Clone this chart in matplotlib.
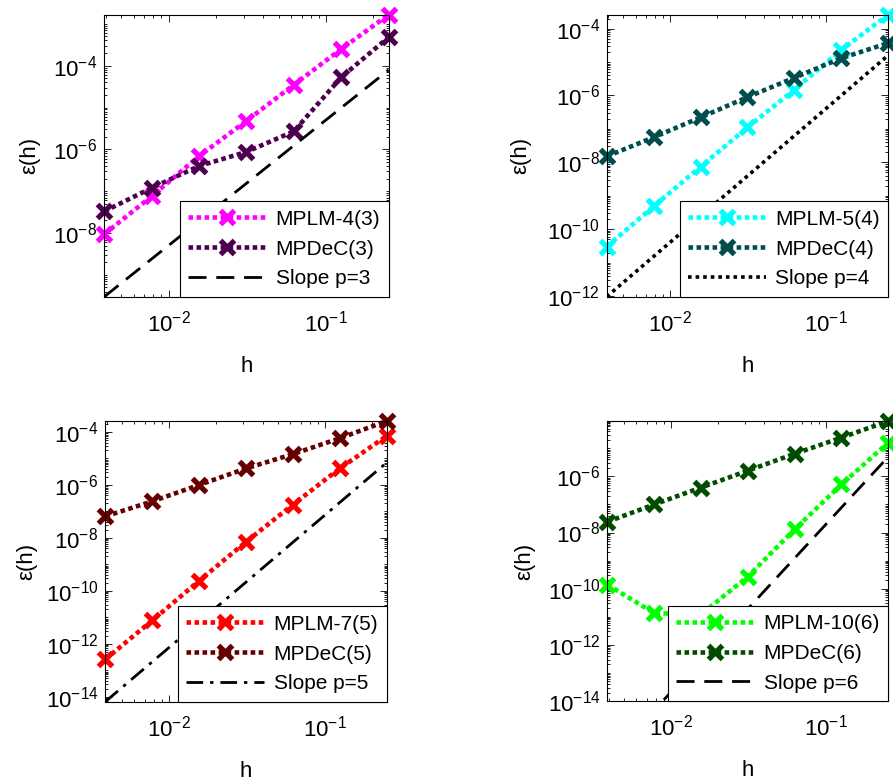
import numpy as np
import matplotlib
matplotlib.use("Agg")
import matplotlib.pyplot as plt
from matplotlib.ticker import FixedLocator, NullFormatter

plt.rcParams['font.family'] = ['Liberation Sans', 'DejaVu Sans']
plt.rcParams['mathtext.fontset'] = 'custom'
plt.rcParams['mathtext.rm'] = 'Liberation Sans'
plt.rcParams['mathtext.it'] = 'Liberation Sans:italic'
plt.rcParams['mathtext.default'] = 'regular'

# step sizes
h = [2**-8, 2**-7, 2**-6, 2**-5, 2**-4, 2**-3, 2**-2]

# order 3
mplm_4_3 = [9.4e-9, 7.6e-8, 6.9e-7, 4.8e-6, 3.5e-5, 2.5e-4, 1.65e-3]
mpdec_3 = [3.3e-8, 1.2e-7, 4.0e-7, 8.7e-7, 2.7e-6, 5.3e-5, 4.8e-4]
# order 4
mplm_5_4 = [3.0e-11, 4.8e-10, 7.4e-9, 1.1e-7, 1.5e-6, 2.3e-5, 2.6e-4]
mpdec_4 = [1.5e-8, 5.6e-8, 2.2e-7, 8.9e-7, 3.4e-6, 1.3e-5, 3.7e-5]
# order 5
mplm_7_5 = [2.6e-13, 7.6e-12, 2.4e-10, 7.1e-9, 1.8e-7, 4.2e-6, 7.1e-5]
mpdec_5 = [6.5e-8, 2.4e-7, 1.0e-6, 4.2e-6, 1.46e-5, 5.8e-5, 2.6e-4]
# order 6
mplm_10_6 = [1.4e-10, 1.35e-11, 1.2e-11, 2.7e-10, 1.3e-8, 5.2e-7, 1.6e-5]
mpdec_6 = [2.4e-8, 1.0e-7, 4.0e-7, 1.6e-6, 6.4e-6, 2.4e-5, 9.4e-5]

# reference slope lines: value at the largest step, and order p
slope_orders = [3, 4, 5, 6]
slope_at_hmax = [7.9e-5, 1.6e-5, 7.0e-6, 5.0e-6]

labels_lm = ['MPLM-4(3)', 'MPLM-5(4)', 'MPLM-7(5)', 'MPLM-10(6)']
labels_dec = ['MPDeC(3)', 'MPDeC(4)', 'MPDeC(5)', 'MPDeC(6)']
slope_labels = ['Slope p=3', 'Slope p=4', 'Slope p=5', 'Slope p=6']

W, H = 893, 784
fig = plt.figure(figsize=(W / 100, H / 100), dpi=100)

# axes boxes in pixels: left, top, right, bottom
boxes = [(104.3, 14.7, 388.7, 296.7),
         (606.7, 14.7, 888.3, 296.7),
         (105.3, 421.0, 386.7, 701.7),
         (607.3, 421.0, 888.3, 701.0)]
# horizontal position of the y-axis label, in axes fraction
ylabel_x = [-0.226, -0.269, -0.243, -0.258]

lm_colors = ['#ff00ff', '#00ffff', '#ff0000', '#00ff00']
dec_colors = [(0.3, 0.0, 0.3), (0.0, 0.3, 0.3), (0.4, 0.0, 0.0), (0.0, 0.3, 0.0)]
slope_styles = [(0, (6.5, 3.5)), (0, (1.0, 1.1)), (0, (6, 2.5, 1.2, 2.5)), (0, (6.5, 3.5))]
slope_widths = [2.0, 2.6, 2.0, 2.0]
ybottom_fixed = [None, None, None, 1e-14]

lm_data = [mplm_4_3, mplm_5_4, mplm_7_5, mplm_10_6]
dec_data = [mpdec_3, mpdec_4, mpdec_5, mpdec_6]

# log tick positions: labelled ticks every second decade, the rest unlabelled
y_major = [float(f"1e{n}") for n in range(-16, 1, 2)]
y_minor = [float(f"{s}e{n}") for n in range(-16, 1) for s in range(1, 10)
           if not (s == 1 and n % 2 == 0)]
x_major = [float(f"1e{n}") for n in range(-4, 1)]
x_minor = [float(f"{s}e{n}") for n in range(-4, 1) for s in range(2, 10)]

hv = np.array(h)
dot = (0, (1.0, 0.75))

for i in range(4):
    l, t, r, b = boxes[i]
    ax = fig.add_axes([l / W, 1 - b / H, (r - l) / W, (b - t) / H])
    ax.set_xscale('log')
    ax.set_yscale('log')

    kw = dict(linestyle=dot, linewidth=3.3, marker='x', markersize=10,
              markeredgewidth=3.8, clip_on=False, dash_capstyle='butt')
    ax.plot(h, lm_data[i], color=lm_colors[i], label=labels_lm[i], **kw)
    ax.plot(h, dec_data[i], color=dec_colors[i], label=labels_dec[i], **kw)

    p = slope_orders[i]
    sl = slope_at_hmax[i] * (hv / hv[-1]) ** p
    ax.plot(hv, sl, color='black', linewidth=slope_widths[i],
            linestyle=slope_styles[i], label=slope_labels[i])

    ax.set_xlim(h[0], h[-1])
    ymax = max(max(lm_data[i]), max(dec_data[i]))
    ymin = ybottom_fixed[i] if ybottom_fixed[i] else sl.min()
    ax.set_ylim(ymin, ymax)

    ax.yaxis.set_major_locator(FixedLocator(y_major))
    ax.yaxis.set_minor_locator(FixedLocator(y_minor))
    ax.yaxis.set_minor_formatter(NullFormatter())
    ax.xaxis.set_major_locator(FixedLocator(x_major))
    ax.xaxis.set_minor_locator(FixedLocator(x_minor))
    ax.xaxis.set_minor_formatter(NullFormatter())

    ax.tick_params(which='both', direction='in', top=True, right=True,
                   width=0.6, labelsize=16)
    ax.tick_params(which='major', length=5)
    ax.tick_params(which='minor', length=2.5)
    ax.tick_params(axis='x', which='both', pad=10)
    ax.tick_params(axis='y', which='both', pad=5)
    for s in ax.spines.values():
        s.set_linewidth(0.8)

    ax.set_xlabel('h', fontsize=16, labelpad=14)
    ax.set_ylabel('ε(h)', fontsize=16)
    ax.yaxis.set_label_coords(ylabel_x[i], 0.5)

    leg = ax.legend(loc='lower right', borderaxespad=0, fontsize=15,
                    handlelength=3.75, handletextpad=0.45, labelspacing=0.52,
                    borderpad=0.4, fancybox=False, framealpha=1,
                    edgecolor='black', numpoints=1)
    leg.get_frame().set_linewidth(0.8)

fig.savefig('out.png', dpi=100)
